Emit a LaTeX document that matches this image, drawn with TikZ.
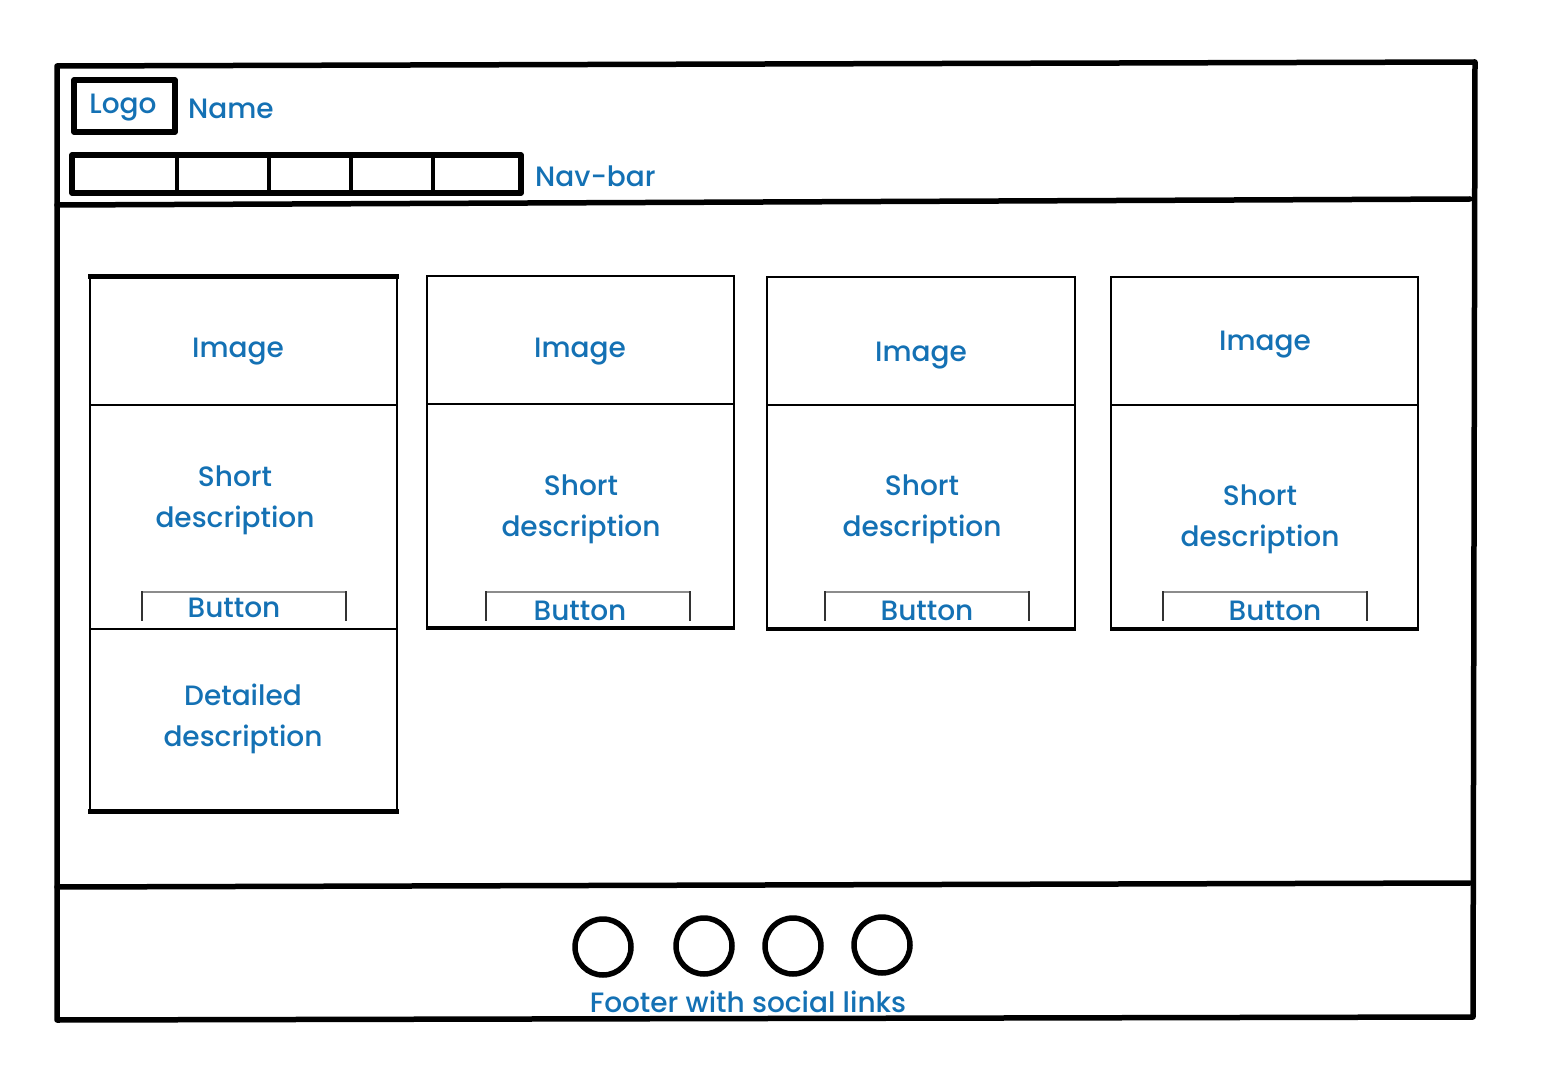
\documentclass[tikz,border=0pt]{standalone}
\usepackage{fontspec}
\setmainfont{Poppins}[UprightFont={* Medium}]
\definecolor{txtblue}{RGB}{20,113,180}
\tikzset{
  lbl/.style={text=txtblue, font=\fontsize{28}{41}\selectfont, inner sep=0pt, align=center, yshift=-4pt},
  thick5/.style={line width=5.5pt, line join=round, line cap=round},
  cardline/.style={line width=2.5pt},
  btnside/.style={line width=1.4pt, draw=black!80},
  btntop/.style={line width=1.2pt, draw=black!45},
  social/.style={circle, draw, line width=5.5pt, minimum size=56pt, inner sep=0pt}
}
\begin{document}
\begin{tikzpicture}[x=1pt,y=-1pt]
\useasboundingbox (0,0) rectangle (1543,1091);
% outer frame
\draw[thick5] (57,66) -- (1475,62) -- (1473,1017) -- (57,1020) -- cycle;
\draw[thick5] (57,205) -- (1470,199);
\draw[thick5] (57,887) -- (1470,883);
% logo and name
\draw[thick5] (74,80) rectangle (175,132);
\node[lbl] (logo) at (123,104) {Logo};
\node[lbl, anchor=west] (name) at (188,105) {Name};
% nav bar
\draw[thick5] (72,155) rectangle (521,193);
\foreach \x in {177,269,351,433} \draw[line width=4.5pt] (\x,155) -- (\x,193);
\node[lbl, anchor=west] (nav) at (535,172) {Nav-bar};
% card 1
\draw[cardline] (90,278) rectangle (397,811);
\draw[line width=5pt] (88,277) -- (399,277);
\draw[line width=5pt] (88,811) -- (399,811);
\draw[cardline] (90,405) -- (397,405);
\draw[cardline] (90,629) -- (397,629);
\node[lbl] (img1) at (238,348) {Image};
\node[lbl] (sd1) at (235,496) {Short\\description};
\draw[btntop] (142,592) -- (346,592);
\draw[btnside] (142,591) -- (142,621) (346,591) -- (346,621);
\node[lbl] (b1) at (234,604) {Button};
\node[lbl] (dd1) at (243,715) {Detailed\\description};
% card 2
\draw[cardline] (427,276) rectangle (734,628);
\draw[line width=4pt] (426,628) -- (735,628);
\draw[cardline] (427,404) -- (734,404);
\node[lbl] (img2) at (580,348) {Image};
\node[lbl] (sd2) at (581,505) {Short\\description};
\draw[btntop] (486,592) -- (690,592);
\draw[btnside] (486,591) -- (486,621) (690,591) -- (690,621);
\node[lbl] (b2) at (580,607) {Button};
% card 3
\draw[cardline] (767,277) rectangle (1075,629);
\draw[line width=4pt] (766,629) -- (1076,629);
\draw[cardline] (767,405) -- (1075,405);
\node[lbl] (img3) at (921,352) {Image};
\node[lbl] (sd3) at (922,505) {Short\\description};
\draw[btntop] (825,592) -- (1029,592);
\draw[btnside] (825,591) -- (825,621) (1029,591) -- (1029,621);
\node[lbl] (b3) at (927,607) {Button};
% card 4
\draw[cardline] (1111,277) rectangle (1418,629);
\draw[line width=4pt] (1110,629) -- (1419,629);
\draw[cardline] (1111,405) -- (1418,405);
\node[lbl] (img4) at (1265,341) {Image};
\node[lbl] (sd4) at (1260,515) {Short\\description};
\draw[btntop] (1163,592) -- (1367,592);
\draw[btnside] (1163,591) -- (1163,621) (1367,591) -- (1367,621);
\node[lbl] (b4) at (1275,607) {Button};
% footer
\node[social] (s1) at (603,947) {};
\node[social] (s2) at (704,946) {};
\node[social] (s3) at (793,946) {};
\node[social] (s4) at (882,945) {};
\node[lbl] (foot) at (748,998) {Footer with social links};
\end{tikzpicture}
\end{document}
